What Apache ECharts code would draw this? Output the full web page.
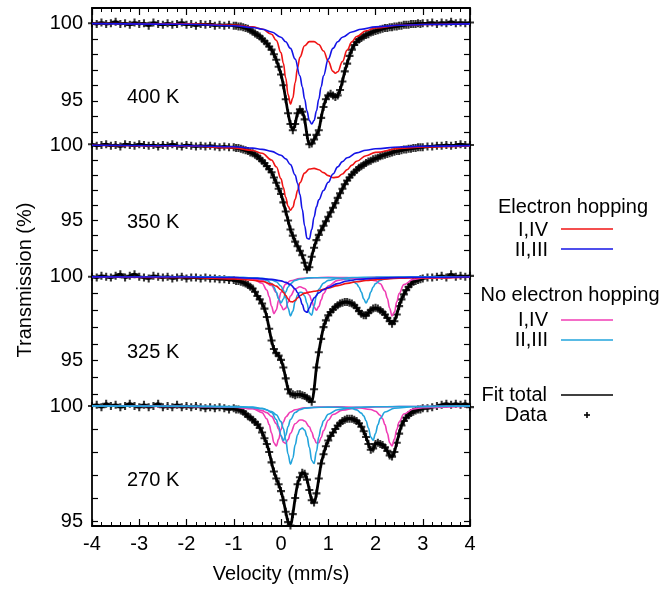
<!DOCTYPE html>
<html><head><meta charset="utf-8">
<script src="https://cdn.jsdelivr.net/npm/echarts@6/dist/echarts.min.js"></script>
<style>html,body{margin:0;padding:0;background:#fff}#c{width:672px;height:589px}</style>
</head><body><div id="c"></div>
<script>
// ---------- DATA ----------
const velocity = [-4.0,-3.9,-3.8,-3.7,-3.6,-3.5,-3.4,-3.3,-3.2,-3.1,-3.0,-2.9,-2.8,-2.7,-2.6,-2.5,-2.4,-2.3,-2.2,-2.1,-2.0,-1.9,-1.8,-1.7,-1.6,-1.5,-1.4,-1.3,-1.2,-1.1,
-1.0,-0.95,-0.9,-0.85,-0.8,-0.75,-0.7,-0.65,-0.6,-0.55,-0.5,-0.45,-0.4,-0.35,-0.3,-0.25,-0.2,-0.15,-0.1,-0.05,
0,0.05,0.1,0.15,0.2,0.25,0.3,0.35,0.4,0.45,0.5,0.55,0.6,0.65,0.7,0.75,0.8,0.85,0.9,0.95,
1.0,1.05,1.1,1.15,1.2,1.25,1.3,1.35,1.4,1.45,1.5,1.55,1.6,1.65,1.7,1.75,1.8,1.85,1.9,1.95,
2.0,2.05,2.1,2.15,2.2,2.25,2.3,2.35,2.4,2.45,2.5,2.55,2.6,2.65,2.7,2.75,2.8,2.85,2.9,2.95,3.0,
3.1,3.2,3.3,3.4,3.5,3.6,3.7,3.8,3.9,4.0];

const data400 = [100.0,99.95,100.05,99.95,100.0,100.1,99.95,100.0,99.9,100.05,99.95,100.0,99.85,100.05,99.95,99.9,100.0,99.9,99.95,100.05,99.9,99.95,99.85,99.95,99.9,99.95,99.85,99.9,99.85,99.9,
99.85,99.85,99.8,99.8,99.75,99.7,99.65,99.55,99.45,99.35,
99.25,99.15,99.0,98.85,98.7,98.5,98.3,98.0,97.65,97.2,
96.7,96.0,95.1,94.2,93.5,93.1,93.5,94.2,94.45,94.3,
93.8,92.8,92.2,92.25,92.5,92.8,93.1,93.9,94.6,95.1,
95.35,95.45,95.35,95.25,95.35,95.7,96.25,96.9,97.4,97.9,
98.3,98.6,98.8,98.95,99.05,99.15,99.25,99.3,99.4,99.45,
99.5,99.55,99.6,99.65,99.7,99.7,99.75,99.75,99.8,99.8,
99.85,99.85,99.9,99.9,99.9,99.95,99.95,99.95,100.0,99.95,
100.0,
100.0,100.05,99.95,100.05,100.0,100.1,100.0,100.05,100.0,100.05];

const data350 = [100.05,99.95,100.0,100.05,99.95,100.0,99.9,100.05,100.0,99.95,100.05,100.0,99.95,100.0,99.9,100.0,99.95,100.05,99.95,99.9,100.0,99.95,99.9,99.95,99.9,99.95,99.9,99.85,99.9,99.85,
99.85,99.8,99.8,99.75,99.7,99.65,99.6,99.5,99.45,99.35,
99.25,99.1,98.95,98.8,98.6,98.4,98.2,97.85,97.5,97.1,
96.75,96.2,95.6,95.0,94.4,94.0,93.6,93.3,93.0,92.7,
92.2,91.75,91.9,92.6,93.2,93.7,94.05,94.35,94.65,94.95,
95.25,95.55,95.85,96.15,96.5,96.8,97.1,97.4,97.65,97.85,
98.05,98.2,98.35,98.5,98.6,98.7,98.8,98.9,98.95,99.05,
99.1,99.15,99.25,99.3,99.35,99.4,99.45,99.5,99.55,99.6,
99.6,99.65,99.7,99.7,99.75,99.75,99.8,99.8,99.85,99.85,
99.85,
99.9,99.9,99.95,99.95,100.0,99.95,100.0,100.05,100.0,100.0];

const data325 = [100.0,99.95,100.05,100.0,99.95,100.05,100.15,99.95,100.05,100.15,100.0,99.95,99.9,100.05,100.0,99.95,100.0,99.9,99.95,100.0,99.9,99.95,99.95,99.9,99.95,99.9,99.9,99.85,99.85,99.8,
99.8,99.75,99.75,99.7,99.65,99.6,99.5,99.4,99.3,99.1,
98.85,98.65,98.4,98.1,97.6,96.9,96.2,95.7,95.45,95.3,
95.05,94.6,93.95,93.3,93.05,93.0,92.95,93.0,93.0,92.95,
92.9,92.8,92.7,92.55,93.3,94.6,95.5,96.3,97.0,97.4,
97.7,97.9,98.05,98.2,98.3,98.4,98.45,98.5,98.5,98.45,
98.4,98.3,98.15,97.95,97.8,97.7,97.7,97.85,98.0,98.1,
98.15,98.1,98.0,97.9,97.75,97.55,97.35,97.2,97.35,97.75,
98.25,98.65,98.95,99.2,99.4,99.55,99.7,99.75,99.8,99.85,
99.9,
99.95,99.95,100.0,100.05,99.95,100.15,100.0,100.05,100.0,100.05];

const data270 = [100.0,100.05,99.95,100.1,100.0,100.05,99.95,100.0,100.1,100.0,99.95,100.05,99.95,100.0,100.1,99.95,100.0,99.95,100.05,99.95,100.0,99.95,100.0,99.95,99.9,99.95,99.9,99.95,99.9,99.85,
99.9,99.85,99.85,99.8,99.75,99.65,99.55,99.5,99.4,99.3,
99.2,99.05,98.85,98.6,98.35,98.0,97.55,97.15,96.85,96.6,
96.3,95.9,95.4,94.95,94.8,95.3,96.0,96.6,96.9,97.1,
97.05,96.8,96.35,95.9,95.8,96.2,96.85,97.5,97.9,98.25,
98.5,98.7,98.85,99.0,99.15,99.25,99.35,99.4,99.45,99.45,
99.45,99.4,99.35,99.25,99.1,98.9,98.65,98.35,98.1,98.15,
98.35,98.4,98.35,98.3,98.2,98.05,97.85,97.8,98.0,98.4,
98.8,99.15,99.35,99.5,99.6,99.7,99.75,99.8,99.85,99.85,
99.9,
99.9,99.95,100.0,100.05,100.1,100.05,100.1,100.05,100.1,99.95];

// fit components: [velocity, transmission]
const red400 = [[-4,99.99],[-2,99.96],[-1,99.88],[-0.6,99.77],[-0.4,99.63],[-0.2,99.29],[-0.1,98.9],[0,98.11],[0.05,97.42],[0.1,96.46],[0.15,95.4],[0.2,94.79],[0.25,95.18],[0.3,96.17],[0.35,97.13],[0.4,97.81],[0.5,98.55],[0.6,98.82],[0.7,98.82],[0.8,98.63],[0.9,98.21],[1.0,97.56],[1.1,96.9],[1.15,96.78],[1.2,96.87],[1.3,97.53],[1.4,98.27],[1.5,98.8],[1.6,99.15],[1.8,99.52],[2.0,99.7],[2.5,99.87],[3.0,99.92],[4.0,99.97]];
const blue400 = [[-4,99.98],[-2,99.94],[-1,99.84],[-0.6,99.73],[-0.4,99.62],[-0.2,99.44],[0,99.1],[0.1,98.81],[0.2,98.38],[0.3,97.69],[0.4,96.62],[0.45,95.91],[0.5,95.12],[0.55,94.34],[0.6,93.73],[0.65,93.5],[0.7,93.73],[0.75,94.34],[0.8,95.12],[0.85,95.91],[0.9,96.62],[1.0,97.69],[1.1,98.38],[1.2,98.81],[1.3,99.1],[1.5,99.44],[1.7,99.62],[2.0,99.77],[2.5,99.87],[3.0,99.92],[4.0,99.96]];
const red350 = [[-4,99.98],[-2,99.93],[-1,99.81],[-0.6,99.64],[-0.4,99.45],[-0.2,99.01],[-0.1,98.56],[0,97.76],[0.05,97.18],[0.1,96.53],[0.15,95.94],[0.2,95.68],[0.25,95.88],[0.3,96.4],[0.35,96.99],[0.4,97.5],[0.5,98.14],[0.6,98.41],[0.7,98.45],[0.8,98.36],[0.9,98.17],[1.0,97.97],[1.1,97.84],[1.2,97.87],[1.3,98.08],[1.4,98.37],[1.5,98.67],[1.6,98.92],[1.8,99.29],[2.0,99.51],[2.5,99.77],[3.0,99.87],[4.0,99.94]];
const blue350 = [[-4,99.98],[-2,99.95],[-1,99.88],[-0.6,99.79],[-0.4,99.71],[-0.2,99.58],[0,99.32],[0.1,99.08],[0.2,98.7],[0.3,98.01],[0.35,97.47],[0.4,96.73],[0.45,95.74],[0.5,94.65],[0.55,93.82],[0.6,93.77],[0.65,94.4],[0.7,95.23],[0.75,95.9],[0.8,96.37],[0.9,96.99],[1.0,97.53],[1.1,98.08],[1.2,98.55],[1.3,98.9],[1.4,99.16],[1.6,99.48],[1.8,99.65],[2.0,99.75],[2.5,99.87],[3.0,99.92],[4.0,99.96]];
const red325 = [[-4,99.98],[-2,99.95],[-1,99.87],[-0.6,99.79],[-0.4,99.71],[-0.2,99.56],[-0.1,99.44],[0,99.22],[0.05,99.07],[0.1,98.88],[0.15,98.67],[0.2,98.51],[0.25,98.5],[0.3,98.6],[0.35,98.74],[0.4,98.87],[0.5,99.02],[0.6,99.08],[0.7,99.13],[0.8,99.18],[1.0,99.32],[1.2,99.47],[1.4,99.6],[1.6,99.7],[1.8,99.77],[2.0,99.82],[2.5,99.91],[3.0,99.94],[4.0,99.97]];
const blue325 = [[-4,99.99],[-2,99.98],[-1,99.95],[-0.5,99.9],[-0.2,99.84],[0,99.75],[0.1,99.66],[0.2,99.53],[0.3,99.27],[0.35,99.06],[0.4,98.75],[0.45,98.35],[0.5,97.96],[0.55,97.88],[0.6,98.14],[0.65,98.48],[0.7,98.74],[0.8,99.04],[0.9,99.22],[1.0,99.36],[1.2,99.59],[1.4,99.74],[1.6,99.83],[2.0,99.91],[2.5,99.95],[3.0,99.97],[4.0,99.98]];
const magA325 = [[-4,100.0],[-2,99.99],[-1,99.96],[-0.6,99.86],[-0.4,99.61],[-0.3,99.21],[-0.25,98.8],[-0.2,98.24],[-0.15,97.8],[-0.1,98.02],[-0.05,98.59],[0,99.07],[0.1,99.56],[0.2,99.76],[0.4,99.89],[0.7,99.94],[1.0,99.96],[1.4,99.95],[1.8,99.89],[2.0,99.76],[2.1,99.58],[2.2,99.15],[2.25,98.72],[2.3,98.12],[2.35,97.66],[2.4,97.89],[2.45,98.5],[2.5,99.0],[2.6,99.53],[2.8,99.84],[3.0,99.92],[4.0,99.99]];
const magB325 = [[-4,99.99],[-2,99.98],[-1,99.95],[-0.6,99.88],[-0.4,99.79],[-0.2,99.48],[-0.1,99.05],[-0.05,98.7],[0,98.29],[0.05,98.03],[0.1,98.13],[0.15,98.49],[0.2,98.85],[0.3,99.28],[0.4,99.4],[0.5,99.3],[0.6,98.91],[0.65,98.57],[0.7,98.19],[0.75,98.01],[0.8,98.22],[0.85,98.62],[0.9,98.99],[1.0,99.45],[1.2,99.78],[1.5,99.91],[2.0,99.96],[3.0,99.99],[4.0,99.99]];
const cyanC325 = [[-4,100.0],[-2,99.99],[-1,99.97],[-0.6,99.94],[-0.4,99.9],[-0.2,99.81],[-0.1,99.7],[0,99.44],[0.05,99.19],[0.1,98.76],[0.15,98.13],[0.2,97.67],[0.25,97.95],[0.3,98.53],[0.35,98.91],[0.4,99.07],[0.45,99.06],[0.5,98.85],[0.55,98.42],[0.6,97.84],[0.65,97.71],[0.7,98.27],[0.75,98.86],[0.8,99.25],[0.9,99.62],[1.0,99.78],[1.2,99.89],[1.5,99.95],[2.0,99.98],[3.0,99.99],[4.0,100.0]];
const cyanD325 = [[-4,100.0],[-2,99.99],[-1,99.97],[-0.6,99.94],[-0.4,99.87],[-0.3,99.78],[-0.2,99.59],[-0.15,99.39],[-0.1,99.08],[-0.05,98.68],[0,98.44],[0.05,98.67],[0.1,99.08],[0.15,99.39],[0.2,99.58],[0.3,99.78],[0.4,99.86],[0.6,99.93],[0.8,99.94],[1.0,99.94],[1.2,99.92],[1.4,99.86],[1.5,99.78],[1.6,99.58],[1.65,99.39],[1.7,99.08],[1.75,98.68],[1.8,98.44],[1.85,98.68],[1.9,99.08],[1.95,99.39],[2.0,99.59],[2.1,99.78],[2.2,99.87],[2.4,99.94],[2.8,99.98],[4.0,100.0]];
const magA270 = [[-4,100.0],[-2,99.99],[-1,99.96],[-0.6,99.88],[-0.4,99.71],[-0.3,99.44],[-0.25,99.19],[-0.2,98.82],[-0.15,98.4],[-0.1,98.26],[-0.05,98.56],[0,98.98],[0.05,99.3],[0.1,99.52],[0.2,99.74],[0.3,99.84],[0.5,99.92],[0.8,99.95],[1.2,99.96],[1.6,99.94],[1.9,99.85],[2.0,99.77],[2.1,99.6],[2.15,99.44],[2.2,99.19],[2.25,98.82],[2.3,98.4],[2.35,98.26],[2.4,98.56],[2.45,98.98],[2.5,99.3],[2.6,99.65],[2.8,99.87],[3.0,99.93],[4.0,99.99]];
const magB270 = [[-4,100.0],[-2,99.98],[-1,99.95],[-0.6,99.89],[-0.4,99.8],[-0.3,99.71],[-0.2,99.55],[-0.1,99.23],[-0.05,98.99],[0,98.69],[0.05,98.43],[0.1,98.37],[0.15,98.54],[0.2,98.81],[0.3,99.23],[0.4,99.39],[0.45,99.39],[0.5,99.35],[0.6,99.1],[0.65,98.87],[0.7,98.59],[0.75,98.39],[0.8,98.4],[0.85,98.63],[0.9,98.93],[1.0,99.38],[1.1,99.63],[1.3,99.82],[1.6,99.92],[2.0,99.96],[3.0,99.99],[4.0,100.0]];
const cyanC270 = [[-4,100.0],[-2,99.99],[-1,99.96],[-0.6,99.93],[-0.4,99.88],[-0.2,99.76],[-0.1,99.62],[0,99.32],[0.05,99.02],[0.1,98.54],[0.15,97.9],[0.2,97.47],[0.25,97.73],[0.3,98.31],[0.35,98.75],[0.4,98.98],[0.45,99.04],[0.5,98.95],[0.55,98.68],[0.6,98.2],[0.65,97.63],[0.7,97.5],[0.75,98.03],[0.8,98.66],[0.85,99.09],[0.9,99.36],[1.0,99.64],[1.2,99.84],[1.5,99.93],[2.0,99.97],[3.0,99.99],[4.0,100.0]];
const cyanD270 = [[-4,100.0],[-2,99.99],[-1,99.98],[-0.6,99.95],[-0.4,99.9],[-0.3,99.84],[-0.2,99.72],[-0.1,99.41],[-0.05,99.11],[0,98.72],[0.05,98.5],[0.1,98.72],[0.15,99.11],[0.2,99.41],[0.3,99.72],[0.4,99.84],[0.5,99.9],[0.7,99.94],[1.0,99.95],[1.3,99.94],[1.5,99.89],[1.6,99.83],[1.7,99.69],[1.75,99.57],[1.8,99.36],[1.85,99.04],[1.9,98.65],[1.95,98.51],[2.0,98.8],[2.05,99.18],[2.1,99.46],[2.2,99.74],[2.4,99.9],[2.8,99.97],[4.0,100.0]];

const panelLabels = ['400 K', '350 K', '325 K', '270 K'];
const yTickLabels = [95, 100];
const xTickRange = [-4, 4];

// ---------- LAYOUT / STYLE ----------
const FONT = 'Liberation Sans, Arial, Helvetica, sans-serif';
const COL = {red: '#f01414', blue: '#1414e6', magenta: '#f03cb4', cyan: '#22a4dc', black: '#000'};
const PL = 92, PR = 470, PT = 8, PB = 535;
const panels = [
  {y100: 23.3, ppu: 15.5, min: 93, data: data400, comps: [[red400, 'red'], [blue400, 'blue']], labelY: 97},
  {y100: 145, ppu: 15.1, min: 93, data: data350, comps: [[red350, 'red'], [blue350, 'blue']], labelY: 222},
  {y100: 276.7, ppu: 16.8, min: 93, data: data325, comps: [[magA325, 'magenta'], [magB325, 'magenta'], [cyanC325, 'cyan'], [cyanD325, 'cyan'], [red325, 'red'], [blue325, 'blue']], labelY: 352},
  {y100: 406, ppu: 23, min: 95, data: data270, comps: [[magA270, 'magenta'], [magB270, 'magenta'], [cyanC270, 'cyan'], [cyanD270, 'cyan']], labelY: 480}
];

const PLUS = 'path://M3.7,0H6.3V3.7H10V6.3H6.3V10H3.7V6.3H0V3.7H3.7Z';

const grids = [{left: PL, right: 672 - PR, top: PT, bottom: 589 - PB, containLabel: false}];
const xAxes = [
  {gridIndex: 0, type: 'value', min: xTickRange[0], max: xTickRange[1], interval: 1, position: 'bottom',
   axisLine: {onZero: false, lineStyle: {color: '#000', width: 1.8}},
   axisTick: {inside: true, length: 7, lineStyle: {color: '#000', width: 1.2}},
   minorTick: {show: true, splitNumber: 5, length: 4, lineStyle: {color: '#000', width: 1}},
   axisLabel: {fontSize: 20, color: '#000', fontFamily: FONT, margin: 8},
   splitLine: {show: false},
   name: 'Velocity (mm/s)', nameLocation: 'middle', nameGap: 38,
   nameTextStyle: {fontSize: 20, color: '#000', fontFamily: FONT}},
  {gridIndex: 0, type: 'value', min: xTickRange[0], max: xTickRange[1], interval: 1, position: 'top',
   axisLine: {onZero: false, lineStyle: {color: '#000', width: 1.8}},
   axisTick: {inside: true, length: 7, lineStyle: {color: '#000', width: 1.2}},
   minorTick: {show: true, splitNumber: 5, length: 4, lineStyle: {color: '#000', width: 1}},
   axisLabel: {show: false}, splitLine: {show: false}}
];
const yAxes = [
  {gridIndex: 0, type: 'value', min: 0, max: 1, position: 'left', axisLine: {show: true, onZero: false, lineStyle: {color: '#000', width: 1.8}},
   axisTick: {show: false}, axisLabel: {show: false}, splitLine: {show: false}},
  {gridIndex: 0, type: 'value', min: 0, max: 1, position: 'right', axisLine: {show: true, onZero: false, lineStyle: {color: '#000', width: 1.8}},
   axisTick: {show: false}, axisLabel: {show: false}, splitLine: {show: false}}
];
const series = [];
panels.forEach((p, i) => {
  const gi = i + 1;
  grids.push({left: PL, right: 672 - PR, top: p.y100, height: (100 - p.min) * p.ppu});
  xAxes.push({gridIndex: gi, type: 'value', min: -4, max: 4, show: false, axisLine: {onZero: false}});
  const yBase = {gridIndex: gi, type: 'value', min: p.min, max: 100, interval: 1,
    axisLine: {show: false, onZero: false}, splitLine: {show: false},
    axisTick: {show: true, inside: true, length: 6, lineStyle: {color: '#000', width: 1.2}}};
  yAxes.push(Object.assign({}, yBase, {position: 'left',
    axisLabel: {fontSize: 20, color: '#000', fontFamily: FONT, margin: 9,
      formatter: v => yTickLabels.indexOf(v) >= 0 ? String(v) : ''}}));
  yAxes.push(Object.assign({}, yBase, {position: 'right', axisLabel: {show: false}}));
  const xi = 2 + i, yi = 2 + 2 * i;
  const pts = velocity.map((v, k) => [v, p.data[k]]);
  series.push({type: 'scatter', xAxisIndex: xi, yAxisIndex: yi, data: pts, symbol: PLUS, symbolSize: 8,
    itemStyle: {color: '#000'}, clip: false, silent: true, z: 2});
  series.push({type: 'line', xAxisIndex: xi, yAxisIndex: yi, data: pts, showSymbol: false, smooth: 0.3,
    lineStyle: {color: '#000', width: 2.8}, clip: false, silent: true, z: 3});
  p.comps.forEach(([arr, c]) => {
    series.push({type: 'line', xAxisIndex: xi, yAxisIndex: yi, data: arr, showSymbol: false,
      smooth: 0.4, smoothMonotone: 'x', lineStyle: {color: COL[c], width: 1.6}, clip: false, silent: true, z: 4});
  });
});

const txt = (text, x, y, align) => ({type: 'text', x: x, y: y, silent: true,
  style: {text: text, x: 0, y: 0, align: align || 'left', verticalAlign: 'middle', fontSize: 20, fontFamily: FONT, fill: '#000'}});
const seg = (x1, y1, x2, y2, color, w) => ({type: 'line', silent: true,
  shape: {x1: x1, y1: y1, x2: x2, y2: y2}, style: {stroke: color, lineWidth: w || 1.6}});

const graphics = [];
panels.forEach((p, i) => graphics.push(txt(panelLabels[i], 127, p.labelY)));
graphics.push({type: 'text', x: 25, y: 280, rotation: Math.PI / 2, silent: true,
  style: {text: 'Transmission (%)', x: 0, y: 0, align: 'center', verticalAlign: 'middle', fontSize: 20, fontFamily: FONT, fill: '#000'}});
// legend
graphics.push(txt('Electron hopping', 573, 207, 'center'));
graphics.push(txt('I,IV', 548, 230, 'right'));
graphics.push(seg(561, 229, 613, 229, COL.red));
graphics.push(txt('II,III', 548, 250, 'right'));
graphics.push(seg(561, 249, 613, 249, COL.blue));
graphics.push(txt('No electron hopping', 570, 295, 'center'));
graphics.push(txt('I,IV', 548, 320, 'right'));
graphics.push(seg(561, 320, 613, 320, COL.magenta));
graphics.push(txt('II,III', 548, 340, 'right'));
graphics.push(seg(561, 340, 613, 340, COL.cyan));
graphics.push(txt('Fit total', 547, 395, 'right'));
graphics.push(seg(561, 395, 613, 395, '#000', 1.5));
graphics.push(txt('Data', 547, 415, 'right'));
graphics.push(seg(584, 415, 590, 415, '#000', 1.6));
graphics.push(seg(587, 412, 587, 418, '#000', 1.6));

const chart = echarts.init(document.getElementById('c'), null, {renderer: 'canvas'});
chart.setOption({
  animation: false,
  backgroundColor: '#fff',
  textStyle: {fontFamily: FONT},
  grid: grids, xAxis: xAxes, yAxis: yAxes, series: series, graphic: graphics
});
</script></body></html>
